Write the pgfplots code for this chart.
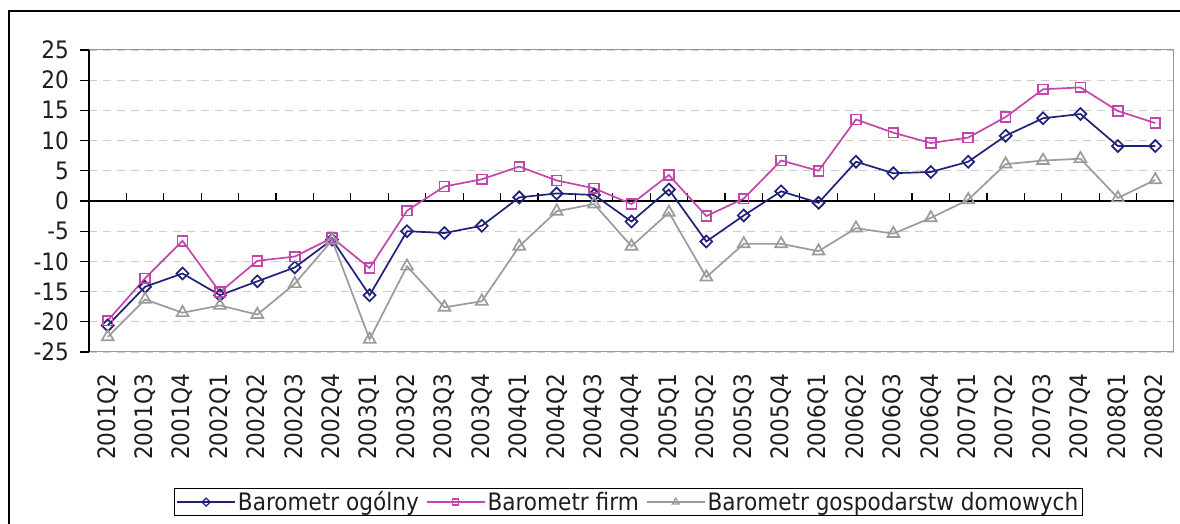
\documentclass[border=0pt]{standalone}
\usepackage{pgfplots}
\pgfplotsset{compat=1.18}
\usepackage{fontspec}
\setmainfont{DejaVu Sans}[FakeStretch=0.9]
\definecolor{cblue}{RGB}{32,33,120}
\definecolor{cmag}{RGB}{195,70,170}
\definecolor{cgray}{RGB}{155,155,155}
\definecolor{cgrid}{RGB}{205,205,205}
\definecolor{cbox}{RGB}{150,150,150}
\definecolor{ctext}{RGB}{30,30,30}
\newcommand{\bigf}{\fontsize{24}{28}\selectfont}
\begin{document}
\begin{tikzpicture}[x=1pt,y=1pt]
\useasboundingbox (0,0) rectangle (1180,524);
\fill[white] (0,0) rectangle (1180,524);
\draw[black, line width=1.3pt] (9,-20) -- (9,513) -- (1200,513);
\begin{axis}[
  at={(89pt,172pt)}, anchor=south west,
  scale only axis, width=1085pt, height=302pt,
  xmin=-0.5, xmax=28.5, ymin=-25, ymax=25,
  axis line style={cbox, line width=1pt},
  xtick={0,...,28},
  xticklabels={2001Q2,2001Q3,2001Q4,2002Q1,2002Q2,2002Q3,2002Q4,2003Q1,2003Q2,2003Q3,2003Q4,2004Q1,2004Q2,2004Q3,2004Q4,2005Q1,2005Q2,2005Q3,2005Q4,2006Q1,2006Q2,2006Q3,2006Q4,2007Q1,2007Q2,2007Q3,2007Q4,2008Q1,2008Q2},
  x tick style={draw=none},
  xtick pos=bottom, ytick pos=left,
  xticklabel style={rotate=90, anchor=east, inner sep=0pt, font=\bigf, text=ctext},
  xticklabel shift=13pt,
  ytick={-25,-20,-15,-10,-5,0,5,10,15,20,25},
  yticklabels={-25,-20,-15,-10,-5,0,5,10,15,20,25},
  yticklabel style={anchor=east, inner sep=0pt, font=\bigf, text=ctext},
  y tick style={black, line width=1.2pt},
  tick align=outside,
  major tick length=9pt,
  yticklabel shift=11pt,
  ymajorgrids,
  grid style={cgrid, line width=0.9pt, dash pattern=on 8pt off 6pt},
  clip=false,
  legend columns=3,
  legend style={at={(0.497,-0.497)}, anchor=center, draw=black, line width=0.9pt,
    font=\bigf, text=ctext, inner xsep=2pt, inner ysep=1pt,
    /tikz/every even column/.append style={column sep=5pt}},
  legend image code/.code={\draw[mark repeat=2, mark phase=2] plot coordinates {(0pt,0pt)(29pt,0pt)(58pt,0pt)};},
]
\draw[black, line width=1.5pt] (axis cs:-0.5,0) -- (axis cs:28.5,0);
\draw[black, line width=1.5pt] (axis cs:-0.5,-25) -- (axis cs:-0.5,25);
\pgfplotsinvokeforeach{0.5,1.5,...,27.5}{\draw[black, line width=1.2pt] (axis cs:#1,0) -- ++(0pt,8pt);}
\addplot[cblue, line width=1.7pt, mark=square, mark size=4.2pt, mark options={rotate=45, fill=white, solid},
  legend image post style={mark size=2.8pt, mark options={rotate=45, fill=white, solid, line width=1.2pt}}] coordinates {
(0,-20.6)(1,-14.2)(2,-12.0)(3,-15.6)(4,-13.3)(5,-11.0)(6,-6.4)(7,-15.6)(8,-5.0)(9,-5.3)(10,-4.1)(11,0.6)(12,1.25)(13,1.0)(14,-3.4)(15,1.9)(16,-6.7)(17,-2.4)(18,1.6)(19,-0.3)(20,6.5)(21,4.6)(22,4.8)(23,6.5)(24,10.8)(25,13.7)(26,14.4)(27,9.1)(28,9.1)};
\addlegendentry{Barometr ogólny}
\addplot[cmag, line width=1.7pt, mark=square, mark size=4.9pt, mark options={fill=white, solid},
  legend image post style={mark size=3pt, mark options={fill=white, solid, line width=1.2pt}}] coordinates {
(0,-19.8)(1,-12.8)(2,-6.6)(3,-15.1)(4,-9.9)(5,-9.2)(6,-6.1)(7,-11.1)(8,-1.6)(9,2.4)(10,3.6)(11,5.7)(12,3.4)(13,2.1)(14,-0.5)(15,4.3)(16,-2.5)(17,0.4)(18,6.7)(19,5.0)(20,13.5)(21,11.3)(22,9.6)(23,10.5)(24,13.9)(25,18.5)(26,18.8)(27,14.9)(28,12.9)};
\addlegendentry{Barometr firm}
\addplot[cgray, line width=1.7pt, mark=triangle, mark size=6.8pt, mark options={fill=white, solid},
  legend image post style={mark size=4pt, mark options={fill=white, solid, line width=1.2pt}}] coordinates {
(0,-22.5)(1,-16.3)(2,-18.5)(3,-17.3)(4,-18.8)(5,-13.7)(6,-6.5)(7,-22.9)(8,-10.8)(9,-17.6)(10,-16.6)(11,-7.5)(12,-1.7)(13,-0.5)(14,-7.5)(15,-1.9)(16,-12.6)(17,-7.1)(18,-7.1)(19,-8.3)(20,-4.5)(21,-5.4)(22,-2.8)(23,0.2)(24,6.1)(25,6.7)(26,7.0)(27,0.5)(28,3.5)};
\addlegendentry{Barometr gospodarstw domowych}
\end{axis}
\end{tikzpicture}
\end{document}
